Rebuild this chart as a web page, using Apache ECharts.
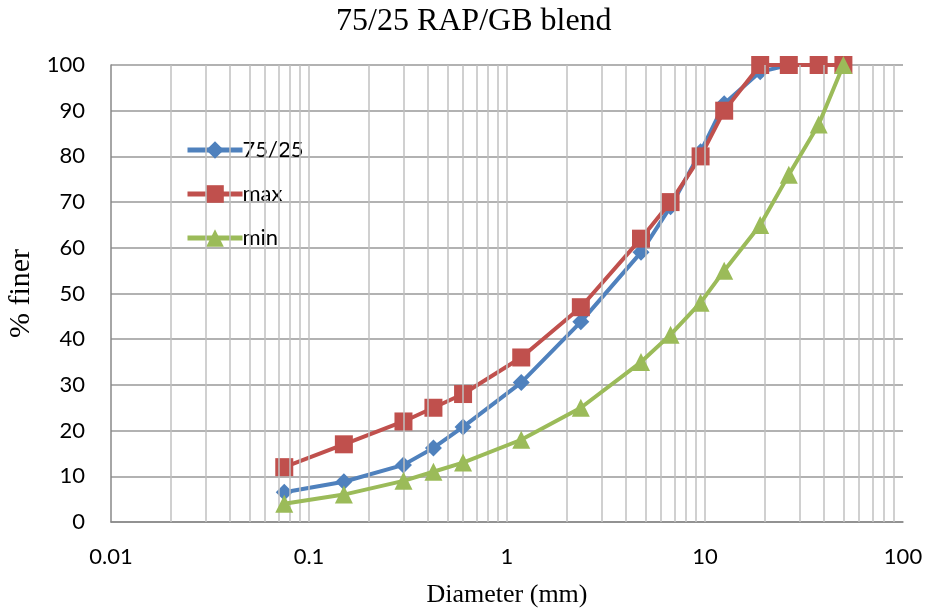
<!DOCTYPE html>
<html>
<head>
<meta charset="utf-8">
<script src="https://cdn.jsdelivr.net/npm/echarts@6/dist/echarts.min.js"></script>
<style>html,body{margin:0;padding:0;background:#fff}#c{width:929px;height:612px}</style>
</head>
<body>
<div id="c"></div>
<script>
const sieves = [0.075, 0.15, 0.3, 0.425, 0.6, 1.18, 2.36, 4.75, 6.7, 9.5, 12.5, 19, 26.5, 37.5, 50];
const blend = [6.5, 8.8, 12.5, 16.2, 20.8, 30.5, 43.8, 59, 69, 81, 91.5, 98.5, 100, 100, 100];
const maxVals = [12, 17, 22, 25, 28, 36, 47, 62, 70, 80, 90, 100, 100, 100, 100];
const minVals = [4, 6, 9, 11, 13, 18, 25, 35, 41, 48, 55, 65, 76, 87, 100];
const xTickLabels = ['0.01', '0.1', '1', '10', '100'];
const vGrid = [0.02,0.03,0.04,0.05,0.06,0.07,0.08,0.09,0.1,0.2,0.3,0.4,0.5,0.6,0.7,0.8,0.9,1,2,3,4,5,6,7,8,9,10,20,30,40,50,60,70,80,90];

const pair = a => sieves.map((x, i) => [x, a[i]]);
const chart = echarts.init(document.getElementById('c'), null, {renderer: 'canvas'});
const lbl = 'Lato';
chart.setOption({
  animation: false,
  title: {
    text: '75/25 RAP/GB blend', left: 331, top: 1,
    textStyle: {fontFamily: 'Liberation Serif', fontSize: 32, fontWeight: 'normal', color: '#000'}
  },
  grid: {left: 111, right: 26, top: 65, bottom: 90, outerBoundsMode: 'none', containLabel: false},
  legend: {
    orient: 'vertical', left: 180, top: 134, itemWidth: 55, itemHeight: 22, itemGap: 22,
    lineStyle: {width: 5},
    textStyle: {fontFamily: lbl, fontSize: 22, color: '#000', padding: [0,0,0,-5]},
    data: ['75/25', 'max', 'min']
  },
  xAxis: {
    type: 'log', logBase: 10, min: 0.01, max: 100,
    name: 'Diameter (mm)', nameLocation: 'middle', nameGap: 60,
    nameTextStyle: {fontFamily: 'Liberation Serif', fontSize: 26, color: '#000'},
    axisLine: {lineStyle: {color: '#888', width: 1.5}},
    axisTick: {show: false},
    splitLine: {show: false},
    axisLabel: {
      fontFamily: lbl, fontSize: 22, color: '#000', margin: 24,
      formatter: v => { const s = xTickLabels.find(t => Math.abs(parseFloat(t) - v) / v < 1e-6); return s || ''; }
    }
  },
  yAxis: {
    type: 'value', min: 0, max: 100, interval: 10,
    name: '% finer', nameLocation: 'middle', nameGap: 70,
    nameTextStyle: {fontFamily: 'Liberation Serif', fontSize: 30, color: '#000'},
    axisLine: {show: true, lineStyle: {color: '#888', width: 1.5}},
    axisTick: {show: false},
    splitLine: {lineStyle: {color: '#999', width: 1.5}},
    axisLabel: {fontFamily: lbl, fontSize: 22, color: '#000', margin: 26}
  },
  series: [
    {
      name: 'gridlines', type: 'line', data: [], silent: true,
      markLine: {
        silent: true, symbol: ['none', 'none'], animation: false,
        label: {show: false},
        lineStyle: {color: '#c0c0c0', width: 1.5, type: 'solid'},
        data: vGrid.map(v => ({xAxis: v}))
      }
    },
    {
      name: '75/25', type: 'line', data: pair(blend), symbol: 'diamond', symbolSize: 17,
      lineStyle: {color: '#4F81BD', width: 4}, itemStyle: {color: '#4F81BD'}, z: 3
    },
    {
      name: 'max', type: 'line', data: pair(maxVals), symbol: 'rect', symbolSize: 18,
      lineStyle: {color: '#C0504D', width: 4}, itemStyle: {color: '#C0504D'}, z: 4
    },
    {
      name: 'min', type: 'line', data: pair(minVals), symbol: 'triangle', symbolSize: 18,
      lineStyle: {color: '#9BBB59', width: 4}, itemStyle: {color: '#9BBB59'}, z: 5
    }
  ]
});
</script>
</body>
</html>
